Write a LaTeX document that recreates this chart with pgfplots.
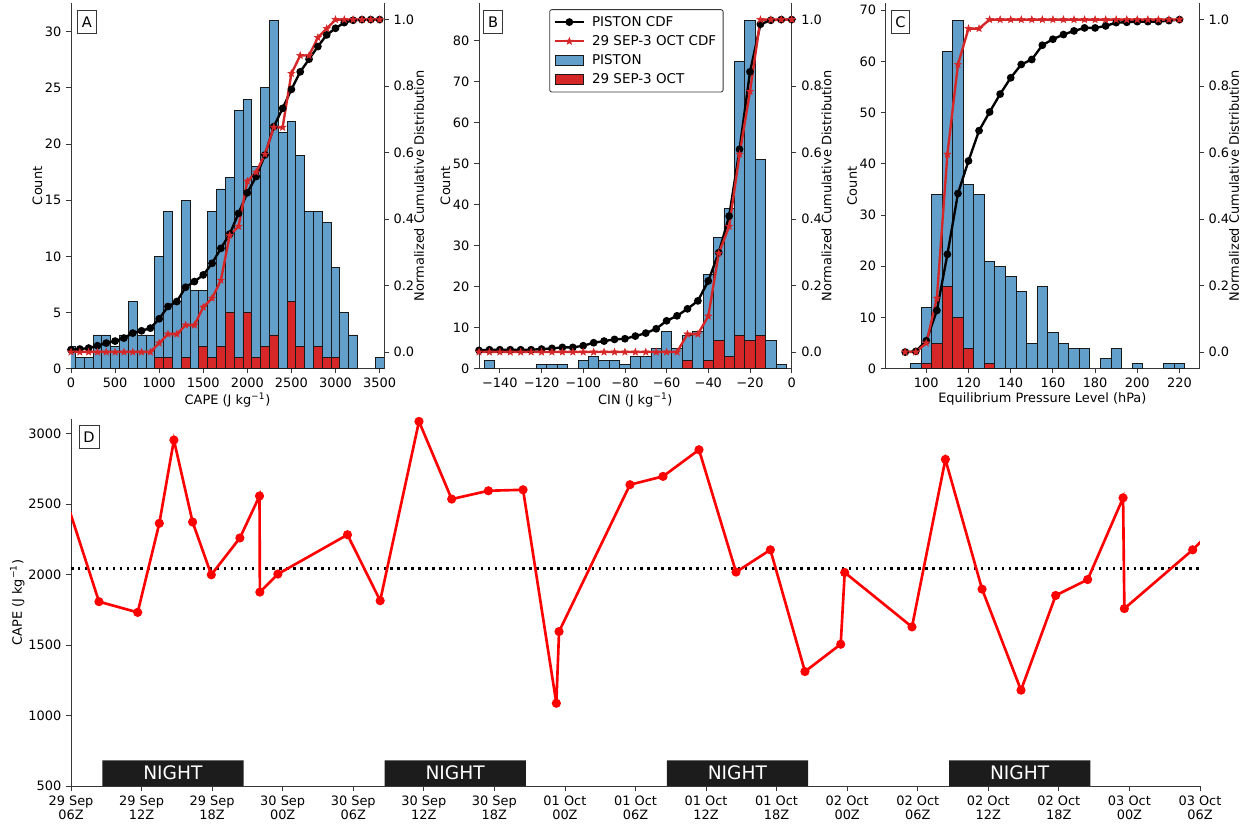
\documentclass[border=0pt]{standalone}
\usepackage{fontspec}
\setmainfont{DejaVu Sans}
\usepackage{pgfplots}
\pgfplotsset{compat=1.18}

\definecolor{pblue}{RGB}{98,160,203}
\definecolor{pred}{RGB}{214,39,40}
\definecolor{edgec}{RGB}{25,25,25}
\definecolor{dred}{RGB}{255,0,0}
\definecolor{nightc}{RGB}{28,28,28}
\definecolor{spine}{RGB}{55,55,55}

\pgfdeclareplotmark{fstar}{%
  \pgfpathmoveto{\pgfpointpolar{90}{\pgfplotmarksize}}%
  \pgfpathlineto{\pgfpointpolar{126}{0.42\pgfplotmarksize}}%
  \pgfpathlineto{\pgfpointpolar{162}{\pgfplotmarksize}}%
  \pgfpathlineto{\pgfpointpolar{198}{0.42\pgfplotmarksize}}%
  \pgfpathlineto{\pgfpointpolar{234}{\pgfplotmarksize}}%
  \pgfpathlineto{\pgfpointpolar{270}{0.42\pgfplotmarksize}}%
  \pgfpathlineto{\pgfpointpolar{306}{\pgfplotmarksize}}%
  \pgfpathlineto{\pgfpointpolar{342}{0.42\pgfplotmarksize}}%
  \pgfpathlineto{\pgfpointpolar{18}{\pgfplotmarksize}}%
  \pgfpathlineto{\pgfpointpolar{54}{0.42\pgfplotmarksize}}%
  \pgfpathclose
  \pgfusepathqfillstroke
}

\tikzset{
  plabel/.style={draw=spine, line width=0.6pt, fill=white, minimum width=13.4pt, minimum height=16.5pt, inner sep=0pt, anchor=north west, font=\fontsize{10.5}{12}\selectfont},
}

\pgfplotsset{
  base/.style={
    scale only axis, anchor=south west,
    font=\fontsize{9.3}{11}\selectfont,
    /pgf/number format/assume math mode=true,
    /pgf/number format/1000 sep={},
    scaled ticks=false,
    xlabel shift=-3.5pt,
  },
  lefthist/.style={
    base,
    axis x line*=bottom, axis y line*=left,
    tick align=outside, major tick length=3.4pt,
    tick style={spine, line width=0.6pt},
    axis line style={spine, line width=0.6pt},
    ylabel={Count},
    ylabel shift=-5pt,
  },
  rightcdf/.style={
    base,
    axis x line=none, axis y line*=right,
    tick align=outside, major tick length=3.4pt,
    tick style={spine, line width=0.6pt},
    axis line style={spine, line width=0.6pt},
    ymin=-0.05, ymax=1.05,
    ytick={0,0.2,0.4,0.6,0.8,1.0},
    yticklabels={0.0,0.2,0.4,0.6,0.8,1.0},
    ylabel={Normalized Cumulative Distribution},
    ylabel near ticks,
    ylabel shift=-7pt,
  },
  bluebar/.style={ybar, fill=pblue, draw=edgec, line width=0.6pt},
  redbar/.style={ybar, fill=pred, draw=edgec, line width=0.6pt},
  blackcdf/.style={black, line width=1.7pt, mark=*, mark size=1.9pt, mark options={solid, fill=black}},
  redcdf/.style={pred, line width=1.7pt, mark=fstar, mark size=2.6pt, mark options={solid, fill=pred, line width=0.4pt}},
  mylinelegend/.style={legend image code/.code={\draw[mark repeat=2,mark phase=2,##1] plot coordinates {(0pt,0pt) (10.3pt,0pt) (20.6pt,0pt)};}},
  myarealegend/.style={legend image code/.code={\draw[sharp corners,##1] (0pt,-3.4pt) rectangle (20.6pt,3.4pt);}},
}

\begin{document}
\begin{tikzpicture}

% ---------------- Panel A ----------------
\begin{axis}[lefthist, at={(51.12pt,327.82pt)}, width=225.36pt, height=263.3pt,
  xmin=0, xmax=3550, ymin=0, ymax=32.55,
  xtick={0,500,...,3500}, ytick={0,5,...,30},
  xlabel={CAPE (J kg\textsuperscript{−1})}]
\addplot[bluebar, bar width=100] coordinates {(0,2) (100,1) (200,1) (300,3) (400,3) (500,2) (600,3) (700,6) (800,3) (900,3) (1000,10) (1100,14) (1200,6) (1300,15) (1400,7) (1500,7) (1600,14) (1700,16) (1800,17) (1900,23) (2000,24) (2100,18) (2200,25) (2300,31) (2400,21) (2500,22) (2600,19) (2700,14) (2800,14) (2900,13) (3000,9) (3100,5) (3200,3) (3500,1)};
\addplot[redbar, bar width=100] coordinates {(1000,1) (1100,1) (1300,1) (1500,2) (1600,1) (1700,2) (1800,5) (1900,1) (2000,5) (2100,1) (2200,2) (2300,3) (2500,6) (2600,2) (2800,2) (2900,1) (3000,1)};
\node[plabel, xshift=4.5pt, yshift=-5pt] at (rel axis cs:0,1) {A};
\end{axis}
\begin{axis}[rightcdf, at={(51.12pt,327.82pt)}, width=225.36pt, height=263.3pt,
  xmin=0, xmax=3550]
\addplot[blackcdf] coordinates {(0,0.007) (100,0.009) (200,0.012) (300,0.019) (400,0.027) (500,0.033) (600,0.042) (700,0.057) (800,0.064) (900,0.072) (1000,0.100) (1100,0.137) (1200,0.152) (1300,0.195) (1400,0.212) (1500,0.232) (1600,0.267) (1700,0.312) (1800,0.355) (1900,0.417) (2000,0.479) (2100,0.528) (2200,0.593) (2300,0.678) (2400,0.733) (2500,0.790) (2600,0.843) (2700,0.881) (2800,0.919) (2900,0.954) (3000,0.974) (3100,0.991) (3200,0.998) (3300,1.0) (3400,1.0) (3500,1.0)};
\addplot[redcdf] coordinates {(0,0) (100,0) (200,0) (300,0) (400,0) (500,0) (600,0) (700,0) (800,0) (900,0) (1000,0.027) (1100,0.054) (1200,0.054) (1300,0.081) (1400,0.081) (1500,0.135) (1600,0.162) (1700,0.216) (1800,0.351) (1900,0.378) (2000,0.514) (2100,0.541) (2200,0.595) (2300,0.676) (2400,0.676) (2500,0.838) (2600,0.892) (2700,0.892) (2800,0.946) (2900,0.973) (3000,1.0) (3100,1.0) (3200,1.0) (3300,1.0) (3400,1.0) (3500,1.0)};
\end{axis}

% ---------------- Panel B ----------------
\begin{axis}[lefthist, at={(344.88pt,327.82pt)}, width=225.14pt, height=263.3pt,
  xmin=-150, xmax=0, ymin=0, ymax=89.25,
  xtick={-140,-120,-100,-80,-60,-40,-20,0},
  xticklabels={−140,−120,−100,−80,−60,−40,−20,0},
  ytick={0,10,...,80},
  xlabel={CIN (J kg\textsuperscript{−1})}]
\addplot[bluebar, bar width=5] coordinates {(-145,2) (-120,1) (-115,1) (-110,1) (-100,2) (-95,3) (-90,2) (-85,2) (-80,1) (-75,3) (-70,3) (-65,5) (-60,9) (-55,5) (-50,8) (-45,9) (-40,23) (-35,32) (-30,39) (-25,75) (-20,85) (-15,51) (-10,7) (-5,1)};
\addplot[redbar, bar width=5] coordinates {(-50,2) (-40,2) (-35,7) (-30,3) (-25,8) (-20,7) (-15,8)};
\node[plabel, xshift=3.1pt, yshift=-5pt] at (rel axis cs:0,1) {B};
\end{axis}
\begin{axis}[rightcdf, at={(344.88pt,327.82pt)}, width=225.14pt, height=263.3pt,
  xmin=-150, xmax=0, mylinelegend,
  legend style={at={(rel axis cs:0,1)}, anchor=north west, xshift=50.6pt, yshift=-4.5pt,
    draw=spine, line width=0.6pt, rounded corners=1.5pt, fill=white,
    font=\fontsize{9.7}{11.5}\selectfont, row sep=1.1pt, inner xsep=3pt, inner ysep=2.6pt,
    /tikz/every odd column/.append style={column sep=3.2pt}},
  legend cell align=left]
\addplot[blackcdf] coordinates {(-150,0.005) (-145,0.007) (-140,0.007) (-135,0.007) (-130,0.007) (-125,0.007) (-120,0.009) (-115,0.011) (-110,0.014) (-105,0.014) (-100,0.019) (-95,0.028) (-90,0.033) (-85,0.038) (-80,0.040) (-75,0.048) (-70,0.057) (-65,0.070) (-60,0.094) (-55,0.109) (-50,0.130) (-45,0.154) (-40,0.214) (-35,0.299) (-30,0.409) (-25,0.610) (-20,0.843) (-15,0.986) (-10,0.998) (-5,1.0) (0,1.0)};
\addlegendentry{PISTON CDF}
\addplot[redcdf] coordinates {(-150,0) (-145,0) (-140,0) (-135,0) (-130,0) (-125,0) (-120,0) (-115,0) (-110,0) (-105,0) (-100,0) (-95,0) (-90,0) (-85,0) (-80,0) (-75,0) (-70,0) (-65,0) (-60,0) (-55,0) (-50,0.054) (-45,0.054) (-40,0.108) (-35,0.297) (-30,0.378) (-25,0.595) (-20,0.784) (-15,1.0) (-10,1.0) (-5,1.0) (0,1.0)};
\addlegendentry{29 SEP-3 OCT CDF}
\addlegendimage{myarealegend, fill=pblue, draw=edgec, line width=0.6pt}
\addlegendentry{PISTON}
\addlegendimage{myarealegend, fill=pred, draw=edgec, line width=0.6pt}
\addlegendentry{29 SEP-3 OCT}
\end{axis}

% ---------------- Panel C ----------------
\begin{axis}[lefthist, at={(637.7pt,327.82pt)}, width=225.58pt, height=263.3pt,
  xmin=80.75, xmax=229.25, ymin=0, ymax=71.4,
  xtick={100,120,...,220}, ytick={0,10,...,70},
  xlabel={Equilibrium Pressure Level (hPa)}]
\addplot[bluebar, bar width=5] coordinates {(95,1) (100,12) (105,34) (110,62) (115,68) (120,36) (125,34) (130,21) (135,20) (140,18) (145,15) (150,5) (155,16) (160,7) (165,5) (170,4) (175,4) (185,2) (190,4) (200,1) (215,1) (220,1)};
\addplot[redbar, bar width=5] coordinates {(100,1) (105,5) (110,16) (115,10) (120,4) (130,1)};
\node[plabel, xshift=3.6pt, yshift=-5pt] at (rel axis cs:0,1) {C};
\end{axis}
\begin{axis}[rightcdf, at={(637.7pt,327.82pt)}, width=225.58pt, height=263.3pt,
  xmin=80.75, xmax=229.25]
\addplot[blackcdf] coordinates {(90,0.0) (95,0.002) (100,0.034) (105,0.125) (110,0.294) (115,0.477) (120,0.575) (125,0.666) (130,0.722) (135,0.776) (140,0.825) (145,0.865) (150,0.880) (155,0.923) (160,0.941) (165,0.955) (170,0.966) (175,0.975) (180,0.975) (185,0.981) (190,0.991) (195,0.992) (200,0.994) (205,0.994) (210,0.994) (215,0.997) (220,1.0)};
\addplot[redcdf] coordinates {(90,0) (95,0) (100,0.027) (105,0.162) (110,0.595) (115,0.865) (120,0.973) (125,0.973) (130,1.0) (135,1.0) (140,1.0) (145,1.0) (150,1.0) (155,1.0) (160,1.0) (165,1.0) (170,1.0) (175,1.0) (180,1.0) (185,1.0) (190,1.0) (195,1.0) (200,1.0) (205,1.0) (210,1.0) (215,1.0) (220,1.0)};
\end{axis}

% ---------------- Panel D ----------------
\begin{axis}[base, at={(51.12pt,27.36pt)}, width=812.88pt, height=264.0pt,
  axis x line*=bottom, axis y line*=left,
  tick align=outside, major tick length=3.4pt,
  tick style={spine, line width=0.6pt},
  axis line style={spine, line width=0.6pt},
  xmin=0, xmax=96, ymin=500, ymax=3102,
  xtick={0,6,...,96},
  xticklabels={{29 Sep\\06Z},{29 Sep\\12Z},{29 Sep\\18Z},{30 Sep\\00Z},{30 Sep\\06Z},{30 Sep\\12Z},{30 Sep\\18Z},{01 Oct\\00Z},{01 Oct\\06Z},{01 Oct\\12Z},{01 Oct\\18Z},{02 Oct\\00Z},{02 Oct\\06Z},{02 Oct\\12Z},{02 Oct\\18Z},{03 Oct\\00Z},{03 Oct\\06Z}},
  xticklabel style={align=center, font=\fontsize{9.3}{10.3}\selectfont},
  ytick={500,1000,...,3000},
  ylabel={CAPE (J kg\textsuperscript{−1})},
  ylabel shift=-4pt]
\addplot[fill=nightc, draw=none] coordinates {(2.66,500) (14.67,500) (14.67,682) (2.66,682) (2.66,500)};
\addplot[fill=nightc, draw=none] coordinates {(26.66,500) (38.67,500) (38.67,682) (26.66,682) (26.66,500)};
\addplot[fill=nightc, draw=none] coordinates {(50.66,500) (62.67,500) (62.67,682) (50.66,682) (50.66,500)};
\addplot[fill=nightc, draw=none] coordinates {(74.66,500) (86.67,500) (86.67,682) (74.66,682) (74.66,500)};
\node[white, font=\fontsize{13.4}{15}\selectfont] at (axis cs:8.665,596) {NIGHT};
\node[white, font=\fontsize{13.4}{15}\selectfont] at (axis cs:32.665,596) {NIGHT};
\node[white, font=\fontsize{13.4}{15}\selectfont] at (axis cs:56.665,596) {NIGHT};
\node[white, font=\fontsize{13.4}{15}\selectfont] at (axis cs:80.665,596) {NIGHT};
\addplot[black, line width=1.8pt, dash pattern=on 1.8pt off 3.2pt] coordinates {(0,2045) (96,2045)};
\addplot[dred, line width=1.9pt, mark=*, mark size=2.3pt, mark options={solid, fill=dred}] coordinates {(-1,2681) (2.38,1808) (5.67,1732) (7.51,2364) (8.75,2955) (10.34,2373) (11.93,1999) (14.36,2260) (16.03,2558) (16.06,1876) (17.59,2004) (23.51,2283) (26.29,1815) (29.59,3087) (32.37,2536) (35.49,2595) (38.44,2602) (41.27,1087) (41.5,1596) (47.53,2638) (50.34,2697) (53.4,2886) (56.55,2018) (59.47,2176) (62.41,1312) (65.45,1506) (65.79,2015) (71.51,1629) (74.35,2818) (77.47,1897) (80.78,1180) (83.73,1852) (86.45,1965) (89.46,2545) (89.57,1759) (95.38,2176) (97,2310)};
\node[plabel, xshift=5.5pt, yshift=-4.1pt, minimum width=14.4pt, minimum height=16.3pt] at (rel axis cs:0,1) {D};
\end{axis}

\pgfresetboundingbox
\useasboundingbox (0pt,0pt) rectangle (897.84pt,593.28pt);
\end{tikzpicture}
\end{document}
